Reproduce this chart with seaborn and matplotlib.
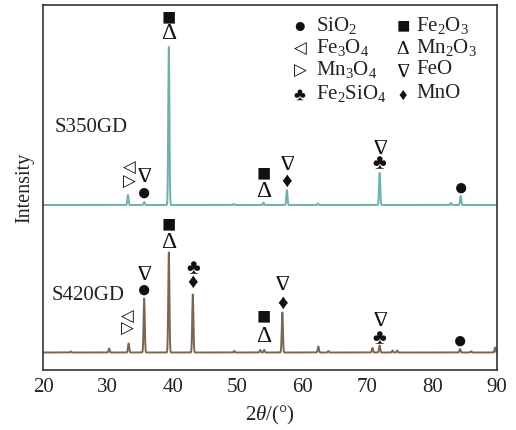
import numpy as np
import pandas as pd
import matplotlib
matplotlib.use("Agg")
import matplotlib.pyplot as plt
import seaborn as sns

# Peak list for each sample: 2-theta position (deg) and height (a.u.)
s350_pos = [33.1, 35.6, 39.4, 49.4, 54.0, 57.6, 62.4, 71.9, 82.9, 84.4]
s350_h = [10, 3, 158, 1.2, 2.5, 15, 1.5, 32, 2, 9]
s420_pos = [24.3, 30.2, 33.2, 35.6, 39.4, 43.1, 49.5, 53.5, 54.1, 56.9,
            62.45, 64.0, 70.8, 71.9, 73.9, 74.6, 84.3, 86.0, 89.7]
s420_h = [1, 4, 9, 54, 100, 58, 1.5, 2.5, 2.5, 40,
          6, 1.5, 4.5, 7, 2, 2, 3.5, 1.2, 5]
offset_350 = 165.0
offset_420 = 17.5

# Phase key
phases = ["SiO$_2$", "Fe$_2$O$_3$", "Fe$_3$O$_4$", "Mn$_2$O$_3$",
          "Mn$_3$O$_4$", "FeO", "Fe$_2$SiO$_4$", "MnO"]
symbols = ["●", "■", "◁", "Δ", "▷", "∇", "♣", "♦"]

# Single phase labels on peaks: (symbol, 2theta, y)
labels_350 = [("∇", 35.6, 195), ("●", 35.6, 177), ("∇", 57.6, 208), ("♦", 57.6, 189),
              ("∇", 71.9, 224), ("♣", 71.9, 207), ("●", 84.4, 182)]
labels_420 = [("∇", 35.6, 98), ("●", 35.6, 80), ("∇", 56.9, 87), ("♦", 56.9, 67),
              ("∇", 71.9, 51), ("♣", 71.9, 32), ("●", 84.3, 29)]
# Stacked phase labels: (two-line text, 2theta, y of upper, y of lower, font size)
stacks = [("◁\n▷", 33.3, 204, 188, 12), ("■\nΔ", 39.4, 354, 337, 17),
          ("■\nΔ", 54.1, 198, 179, 17),
          ("◁\n▷", 33.0, 54, 41, 12), ("■\nΔ", 39.4, 147, 128, 17),
          ("♣\n♦", 43.1, 103, 87, 15), ("■\nΔ", 54.1, 56, 33, 17)]


def pattern(theta, pos, h, base, w=0.09):
    y = np.full_like(theta, base)
    for p, a in zip(pos, h):
        y += a * np.exp(-0.5 * ((theta - p) / w) ** 2)
    return y


theta = np.arange(20.0, 90.0001, 0.01)
df = pd.concat([
    pd.DataFrame({"2theta": theta, "I": pattern(theta, s350_pos, s350_h, offset_350), "sample": "S350GD"}),
    pd.DataFrame({"2theta": theta, "I": pattern(theta, s420_pos, s420_h, offset_420), "sample": "S420GD"}),
])

sns.set_theme(style="white")
plt.rcParams["font.family"] = ["Liberation Serif", "DejaVu Sans"]
plt.rcParams["mathtext.fontset"] = "custom"
plt.rcParams["mathtext.rm"] = "Liberation Serif"
plt.rcParams["mathtext.it"] = "Liberation Serif:italic"
plt.rcParams["mathtext.default"] = "regular"

fig = plt.figure(figsize=(5.16, 4.30), dpi=100)
ax = fig.add_axes([43 / 516, 60 / 430, 454 / 516, 365 / 430])

sns.lineplot(data=df, x="2theta", y="I", hue="sample",
             palette={"S350GD": "#6fb0ab", "S420GD": "#7b6650"},
             linewidth=1.4, legend=False, ax=ax, estimator=None, sort=False)

ax.set_xlim(20, 90)
ax.set_ylim(0, 365)
ax.set_xticks(np.arange(20, 91, 10))
ax.set_yticks([])
ax.tick_params(axis="x", direction="in", length=5, width=1, labelsize=15,
               colors="#222222", pad=6)
for s in ax.spines.values():
    s.set_color("#333333")
    s.set_linewidth(1.2)
ax.set_xlabel(r"$\mathit{2\theta}$/(°)", fontsize=15, color="#222222", labelpad=5)
ax.set_ylabel("Intensity", fontsize=14.5, color="#222222", labelpad=6)


def draw_symbol(x, y, s, size):
    # FeO nabla drawn as a thin serif delta turned upside down;
    # small shifts keep the glyph centred on the given point
    if s == "∇":
        ax.text(x, y + 4, "Δ", ha="center", va="center", rotation=180,
                fontsize=size, color="#111111")
    else:
        ax.text(x, y - 1.5, s, ha="center", va="center", fontsize=size, color="#111111")


sym_size = {"●": 17, "■": 19, "◁": 12, "▷": 12, "Δ": 16, "∇": 16, "♣": 15, "♦": 15}
for lab in (labels_350, labels_420):
    for s, x, y in lab:
        draw_symbol(x, y, s, sym_size[s])

# one text per stacked pair; line pitch (axis units == pixels) sets linespacing
for txt, x, y_top, y_bot, size in stacks:
    pitch = y_top - y_bot
    em = size * 100 / 72
    ax.text(x, (y_top + y_bot) / 2 - 1.5, txt, ha="center", va="center",
            multialignment="center", fontsize=size,
            linespacing=pitch / (1.17 * em), color="#111111")

ax.text(21.85, 243, "S350GD", fontsize=15, va="center", ha="left", color="#222222")
ax.text(21.4, 75, "S420GD", fontsize=15, va="center", ha="left", color="#222222")

# Phase key, two columns
rows_y = [344, 322, 300, 276]
col_sym_x = [59.6, 75.5]
col_txt_x = [62.1, 77.5]
leg_size = {"●": 15, "■": 16, "◁": 12, "▷": 12, "Δ": 14, "∇": 14, "♣": 13, "♦": 12}
for i, (name, s) in enumerate(zip(phases, symbols)):
    r, c = divmod(i, 2)
    draw_symbol(col_sym_x[c], rows_y[r], s, leg_size[s])
    ax.text(col_txt_x[c], rows_y[r], name, ha="left", va="center",
            fontsize=15, color="#222222")

fig.savefig("out.png", dpi=100)
